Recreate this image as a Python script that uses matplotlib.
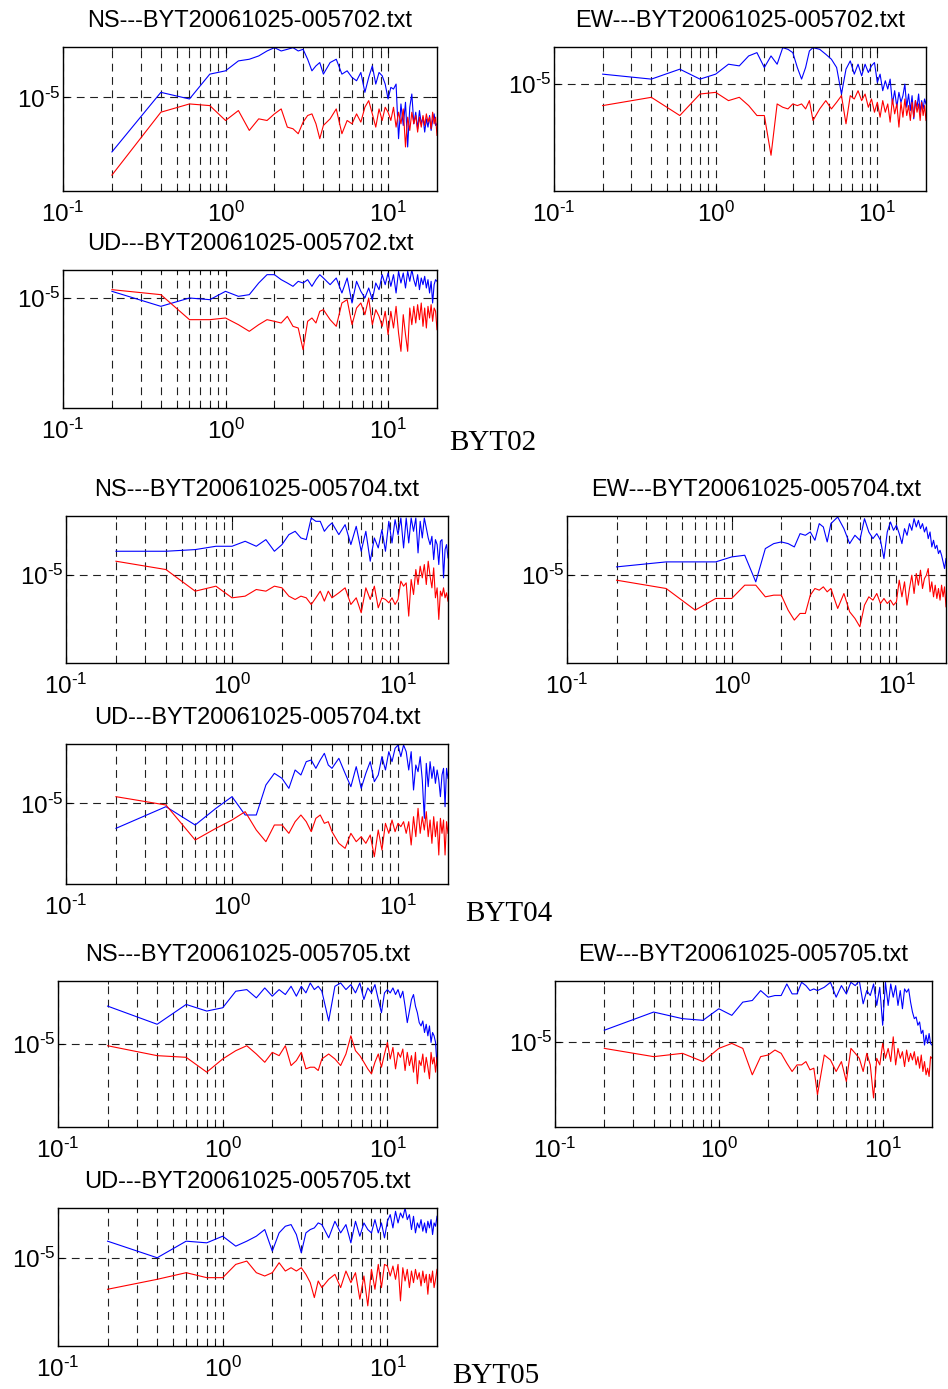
import numpy as np
import matplotlib.pyplot as plt
from matplotlib.ticker import NullFormatter, NullLocator

plt.rcParams['font.family'] = ['Liberation Sans', 'DejaVu Sans']
plt.rcParams['mathtext.fontset'] = 'custom'
plt.rcParams['mathtext.rm'] = 'Liberation Sans'

# frequency grid, Hz
freq = [0.2, 0.4, 0.6, 0.8, 1.0, 1.2, 1.4, 1.6, 1.8, 2.0,
        2.2, 2.4, 2.6, 2.8, 3.0, 3.2, 3.4, 3.6, 3.8, 4.0,
        4.4, 4.8, 5.2, 5.6, 6.0, 6.4, 6.8, 7.2, 7.6, 8.0,
        8.4, 8.8, 9.2, 9.6, 10.0, 10.4, 10.8, 11.2, 11.6, 12.0,
        12.4, 12.8, 13.2, 13.6, 14.0, 14.4, 14.8, 15.2, 15.6, 16.0,
        16.4, 16.8, 17.2, 17.6, 18.0, 18.4, 18.8, 19.2, 19.6, 20.0]

# log10 of spectral amplitude (blue / red curves)
ns02_blue = [-5.33, -4.97, -5.01, -4.86, -4.84, -4.78, -4.77, -4.75, -4.72, -4.70,
             -4.72, -4.71, -4.70, -4.72, -4.71, -4.77, -4.84, -4.81, -4.79, -4.86,
             -4.79, -4.77, -4.86, -4.84, -4.88, -4.90, -4.85, -4.97, -4.88, -4.81,
             -4.92, -4.85, -4.87, -4.92, -5.01, -4.94, -4.95, -4.92, -5.25, -5.04,
             -5.17, -5.03, -5.30, -5.06, -4.98, -5.16, -5.09, -5.19, -5.08, -5.16,
             -5.12, -5.21, -5.13, -5.18, -5.11, -5.20, -5.14, -5.10, -5.17, -5.16]
ns02_red = [-5.47, -5.09, -5.04, -5.05, -5.14, -5.08, -5.20, -5.13, -5.14, -5.10,
            -5.07, -5.18, -5.19, -5.22, -5.15, -5.11, -5.10, -5.16, -5.25, -5.17,
            -5.13, -5.07, -5.22, -5.14, -5.16, -5.10, -5.15, -5.06, -5.02, -5.10,
            -5.18, -5.07, -5.14, -5.06, -5.09, -5.14, -5.06, -5.18, -5.09, -5.16,
            -5.07, -5.30, -5.12, -5.20, -5.09, -5.16, -5.11, -5.21, -5.12, -5.18,
            -5.11, -5.17, -5.10, -5.15, -5.12, -5.19, -5.09, -5.16, -5.12, -5.23]
ew02_blue = [-4.94, -4.97, -4.91, -4.97, -4.94, -4.88, -4.89, -4.83, -4.81, -4.90,
             -4.83, -4.88, -4.78, -4.79, -4.81, -4.90, -4.97, -4.90, -4.80, -4.78,
             -4.79, -4.82, -4.85, -4.90, -5.06, -4.91, -4.86, -4.94, -4.88, -4.95,
             -4.88, -4.93, -4.89, -4.87, -4.99, -4.94, -5.04, -4.98, -5.03, -4.97,
             -5.12, -5.04, -5.14, -5.05, -5.11, -5.07, -5.00, -5.14, -5.06, -5.16,
             -5.07, -5.21, -5.10, -5.14, -5.06, -5.17, -5.10, -5.15, -5.09, -5.12]
ew02_red = [-5.13, -5.08, -5.19, -5.06, -5.05, -5.10, -5.08, -5.13, -5.19, -5.19,
            -5.43, -5.12, -5.14, -5.15, -5.12, -5.13, -5.12, -5.15, -5.10, -5.22,
            -5.15, -5.10, -5.15, -5.11, -5.07, -5.24, -5.07, -5.09, -5.04, -5.10,
            -5.06, -5.14, -5.09, -5.17, -5.11, -5.20, -5.10, -5.17, -5.12, -5.23,
            -5.09, -5.18, -5.12, -5.26, -5.11, -5.20, -5.09, -5.19, -5.13, -5.22,
            -5.11, -5.20, -5.10, -5.17, -5.12, -5.22, -5.11, -5.19, -5.13, -5.22]
ud02_blue = [-4.96, -5.05, -5.00, -5.01, -4.96, -4.99, -4.98, -4.91, -4.86, -4.86,
             -4.89, -4.91, -4.93, -4.90, -4.91, -4.89, -4.93, -4.89, -4.86, -4.88,
             -4.92, -4.88, -4.97, -4.88, -5.03, -4.90, -4.96, -5.00, -4.94, -5.01,
             -4.91, -4.95, -4.86, -4.92, -4.85, -4.93, -4.86, -4.97, -4.84, -4.91,
             -4.85, -4.94, -4.84, -4.90, -4.83, -4.89, -4.93, -4.86, -4.95, -4.88,
             -4.92, -4.87, -4.94, -4.89, -4.97, -4.90, -5.03, -4.92, -4.89, -4.90]
ud02_red = [-4.95, -4.98, -5.13, -5.13, -5.12, -5.16, -5.20, -5.16, -5.13, -5.14,
            -5.15, -5.11, -5.17, -5.18, -5.31, -5.14, -5.12, -5.15, -5.08, -5.07,
            -5.13, -5.17, -5.03, -5.01, -5.16, -5.06, -5.03, -5.10, -5.00, -5.16,
            -5.07, -5.11, -5.17, -5.08, -5.22, -5.08, -5.18, -5.05, -5.21, -5.32,
            -5.10, -5.22, -5.32, -5.06, -5.16, -5.05, -5.15, -5.04, -5.13, -5.03,
            -5.17, -5.06, -5.18, -5.05, -5.12, -5.04, -5.14, -5.06, -5.08, -5.19]

ns04_blue = [-4.86, -4.86, -4.85, -4.83, -4.83, -4.80, -4.83, -4.79, -4.86, -4.82,
             -4.76, -4.74, -4.78, -4.79, -4.66, -4.68, -4.68, -4.74, -4.71, -4.69,
             -4.76, -4.70, -4.82, -4.71, -4.86, -4.74, -4.92, -4.78, -4.84, -4.73,
             -4.86, -4.68, -4.81, -4.67, -4.76, -4.66, -4.84, -4.66, -4.81, -4.66,
             -4.74, -4.66, -4.87, -4.68, -4.78, -4.66, -4.72, -4.78, -4.82, -4.77,
             -4.91, -4.79, -4.82, -4.94, -4.80, -4.79, -5.02, -4.85, -4.82, -4.90]
ns04_red = [-4.92, -4.97, -5.10, -5.07, -5.14, -5.13, -5.09, -5.10, -5.07, -5.08,
            -5.13, -5.15, -5.13, -5.14, -5.18, -5.14, -5.10, -5.16, -5.10, -5.14,
            -5.11, -5.08, -5.18, -5.14, -5.23, -5.08, -5.15, -5.07, -5.20, -5.14,
            -5.15, -5.17, -5.14, -5.18, -5.15, -5.04, -5.07, -5.05, -5.25, -5.03,
            -5.12, -4.97, -5.06, -4.95, -5.02, -4.94, -5.06, -4.92, -5.01, -5.08,
            -4.96, -5.14, -5.08, -5.27, -5.10, -5.13, -5.08, -5.14, -5.11, -5.16]
ew04_blue = [-4.95, -4.92, -4.92, -4.92, -4.89, -4.88, -5.04, -4.84, -4.81, -4.80,
             -4.81, -4.83, -4.75, -4.76, -4.74, -4.79, -4.69, -4.71, -4.80, -4.69,
             -4.65, -4.72, -4.81, -4.76, -4.79, -4.66, -4.74, -4.78, -4.75, -4.79,
             -4.90, -4.74, -4.68, -4.73, -4.70, -4.75, -4.81, -4.72, -4.76, -4.69,
             -4.73, -4.66, -4.71, -4.67, -4.72, -4.69, -4.74, -4.71, -4.78, -4.74,
             -4.83, -4.79, -4.84, -4.82, -4.87, -4.85, -4.88, -4.92, -4.96, -4.90]
ew04_red = [-5.03, -5.08, -5.21, -5.14, -5.14, -5.06, -5.06, -5.13, -5.12, -5.12,
            -5.21, -5.27, -5.23, -5.23, -5.12, -5.08, -5.09, -5.07, -5.10, -5.08,
            -5.20, -5.11, -5.22, -5.26, -5.31, -5.18, -5.13, -5.15, -5.11, -5.17,
            -5.14, -5.17, -5.15, -5.18, -5.16, -5.03, -5.13, -5.04, -5.18, -5.08,
            -5.00, -5.11, -4.99, -5.06, -4.97, -5.08, -5.02, -5.00, -4.96, -5.10,
            -5.04, -5.13, -5.06, -5.14, -5.08, -5.15, -5.06, -5.13, -5.07, -5.19]
ud04_blue = [-5.15, -5.02, -5.13, -5.03, -4.96, -5.07, -5.07, -4.89, -4.82, -4.85,
             -4.91, -4.80, -4.83, -4.75, -4.74, -4.79, -4.74, -4.70, -4.77, -4.79,
             -4.73, -4.82, -4.90, -4.78, -4.91, -4.82, -4.75, -4.87, -4.83, -4.72,
             -4.80, -4.69, -4.75, -4.67, -4.65, -4.72, -4.65, -4.69, -4.80, -4.69,
             -4.92, -4.77, -4.81, -4.72, -4.86, -5.09, -4.76, -4.90, -4.75, -4.85,
             -4.78, -4.88, -4.80, -4.86, -4.96, -4.83, -4.79, -5.02, -4.79, -4.85]
ud04_red = [-4.96, -5.01, -5.22, -5.15, -5.10, -5.05, -5.16, -5.23, -5.13, -5.13,
            -5.18, -5.11, -5.07, -5.11, -5.17, -5.09, -5.07, -5.12, -5.11, -5.17,
            -5.24, -5.27, -5.18, -5.23, -5.20, -5.24, -5.19, -5.32, -5.16, -5.28,
            -5.12, -5.18, -5.10, -5.17, -5.12, -5.14, -5.11, -5.18, -5.11, -5.25,
            -5.08, -5.20, -5.03, -5.18, -5.08, -5.16, -5.05, -5.20, -5.10, -5.24,
            -5.08, -5.20, -5.11, -5.31, -5.09, -5.18, -5.10, -5.31, -5.11, -5.18]

ns05_blue = [-4.77, -4.88, -4.76, -4.80, -4.78, -4.68, -4.67, -4.72, -4.66, -4.71,
             -4.67, -4.70, -4.65, -4.71, -4.65, -4.69, -4.63, -4.67, -4.65, -4.68,
             -4.86, -4.65, -4.63, -4.67, -4.64, -4.69, -4.63, -4.73, -4.66, -4.69,
             -4.64, -4.73, -4.81, -4.69, -4.67, -4.69, -4.66, -4.70, -4.67, -4.72,
             -4.68, -4.77, -4.87, -4.80, -4.73, -4.70, -4.77, -4.81, -4.87, -4.89,
             -4.86, -4.93, -4.88, -4.95, -4.89, -4.99, -4.93, -4.95, -4.99, -5.13]
ns05_red = [-5.01, -5.07, -5.08, -5.17, -5.09, -5.04, -5.01, -5.06, -5.11, -5.05,
            -5.07, -5.01, -5.13, -5.10, -5.05, -5.15, -5.14, -5.14, -5.16, -5.09,
            -5.06, -5.09, -5.13, -5.06, -4.95, -5.04, -5.07, -5.11, -5.15, -5.18,
            -5.11, -5.06, -5.14, -5.06, -4.99, -5.09, -5.02, -5.15, -5.05, -5.08,
            -5.03, -5.16, -5.05, -5.13, -5.07, -5.17, -5.05, -5.24, -5.10, -5.13,
            -5.06, -5.17, -5.08, -5.14, -5.21, -5.05, -5.12, -5.08, -5.17, -5.08]
ew05_blue = [-4.93, -4.82, -4.86, -4.87, -4.80, -4.84, -4.76, -4.75, -4.69, -4.73,
             -4.72, -4.72, -4.65, -4.71, -4.71, -4.64, -4.66, -4.69, -4.68, -4.69,
             -4.67, -4.64, -4.73, -4.66, -4.71, -4.64, -4.66, -4.63, -4.77, -4.69,
             -4.72, -4.65, -4.78, -4.67, -4.90, -4.64, -4.78, -4.65, -4.73, -4.66,
             -4.78, -4.69, -4.80, -4.68, -4.70, -4.68, -4.76, -4.82, -4.86, -4.85,
             -4.90, -4.88, -4.95, -4.93, -5.02, -4.96, -5.01, -4.95, -5.01, -5.02]
ew05_red = [-5.04, -5.09, -5.07, -5.12, -5.04, -5.01, -5.04, -5.20, -5.09, -5.08,
            -5.05, -5.07, -5.13, -5.18, -5.14, -5.14, -5.12, -5.17, -5.16, -5.32,
            -5.08, -5.11, -5.18, -5.12, -5.24, -5.04, -5.07, -5.10, -5.18, -5.07,
            -5.14, -5.34, -5.10, -5.14, -5.01, -5.10, -5.04, -5.12, -4.97, -5.14,
            -5.04, -5.10, -5.06, -5.15, -5.05, -5.12, -5.07, -5.11, -5.06, -5.14,
            -5.09, -5.16, -5.08, -5.18, -5.12, -5.20, -5.16, -5.21, -5.09, -5.10]
ud05_blue = [-4.90, -5.00, -4.90, -4.91, -4.87, -4.93, -4.90, -4.87, -4.83, -4.96,
             -4.85, -4.81, -4.80, -4.86, -4.97, -4.85, -4.83, -4.82, -4.79, -4.80,
             -4.88, -4.78, -4.85, -4.80, -4.91, -4.78, -4.87, -4.79, -4.83, -4.85,
             -4.77, -4.85, -4.79, -4.88, -4.78, -4.74, -4.82, -4.72, -4.79, -4.73,
             -4.76, -4.70, -4.77, -4.74, -4.83, -4.75, -4.85, -4.79, -4.82, -4.77,
             -4.84, -4.79, -4.85, -4.78, -4.82, -4.77, -4.86, -4.79, -4.81, -4.75]
ud05_red = [-5.19, -5.13, -5.09, -5.12, -5.12, -5.04, -5.02, -5.09, -5.11, -5.09,
            -5.03, -5.08, -5.06, -5.08, -5.06, -5.10, -5.15, -5.24, -5.14, -5.18,
            -5.13, -5.10, -5.18, -5.08, -5.15, -5.09, -5.25, -5.11, -5.29, -5.07,
            -5.19, -5.04, -5.18, -5.04, -5.05, -5.11, -5.05, -5.13, -5.04, -5.26,
            -5.06, -5.14, -5.07, -5.18, -5.08, -5.15, -5.07, -5.13, -5.09, -5.17,
            -5.08, -5.15, -5.10, -5.22, -5.10, -5.15, -5.08, -5.18, -5.13, -5.07]

titles = ['NS---BYT20061025-005702.txt', 'EW---BYT20061025-005702.txt',
          'UD---BYT20061025-005702.txt',
          'NS---BYT20061025-005704.txt', 'EW---BYT20061025-005704.txt',
          'UD---BYT20061025-005704.txt',
          'NS---BYT20061025-005705.txt', 'EW---BYT20061025-005705.txt',
          'UD---BYT20061025-005705.txt']
stations = ['BYT02', 'BYT04', 'BYT05']

W, H = 948, 1389
fig = plt.figure(figsize=(W / 100, H / 100), dpi=100)

# axes boxes in pixels (left, top, right, bottom) and y range in log10 units
panels = [
    ((63, 47, 437, 191), (-5.566, -4.696), ns02_blue, ns02_red),
    ((554, 47, 926, 191), (-5.646, -4.776), ew02_blue, ew02_red),
    ((63, 270, 437, 408), (-5.660, -4.832), ud02_blue, ud02_red),
    ((66, 516, 448, 663), (-5.532, -4.648), ns04_blue, ns04_red),
    ((567, 516, 946, 663), (-5.528, -4.644), ew04_blue, ew04_red),
    ((66, 744, 448, 884), (-5.484, -4.644), ud04_blue, ud04_red),
    ((58, 981, 437, 1127), (-5.502, -4.618), ns05_blue, ns05_red),
    ((555, 981, 932, 1127), (-5.516, -4.632), ew05_blue, ew05_red),
    ((58, 1208, 437, 1346), (-5.532, -4.700), ud05_blue, ud05_red),
]

minor_x = [0.2, 0.3, 0.4, 0.5, 0.6, 0.7, 0.8, 0.9, 2, 3, 4, 5, 6, 7, 8, 9]
dash = (0, (7, 5))
xlabels = [r'$\mathregular{10^{\text{-}1}}$', r'$\mathregular{10^{0}}$',
           r'$\mathregular{10^{1}}$']
ylabel = r'$\mathregular{10^{\text{-}5}}$'

for (box, ylim, blue, red), title in zip(panels, titles):
    x0, y0, x1, y1 = box
    ax = fig.add_axes([x0 / W, 1 - y1 / H, (x1 - x0) / W, (y1 - y0) / H])
    ax.set_xscale('log')
    ax.set_yscale('log')
    ax.plot(freq, 10 ** np.array(blue), color='#0000ff', lw=0.8)
    ax.plot(freq, 10 ** np.array(red), color='#ff0000', lw=0.8)
    ax.set_xlim(0.1, 20)
    ax.set_ylim(10 ** ylim[0], 10 ** ylim[1])
    ax.set_xticks([0.1, 1, 10], xlabels)
    ax.set_xticks(minor_x, minor=True)
    ax.xaxis.set_minor_formatter(NullFormatter())
    ax.set_yticks([1e-5], [ylabel])
    ax.yaxis.set_minor_locator(NullLocator())
    ax.grid(True, which='both', axis='x', color='#202020', ls=dash, lw=0.8)
    ax.grid(True, which='major', axis='y', color='#202020', ls=dash, lw=0.8)
    ax.tick_params(which='both', direction='in', top=True, right=True, labelsize=17.5)
    ax.tick_params(which='major', length=4)
    ax.tick_params(which='minor', length=2)
    ax.tick_params(axis='x', pad=8)
    ax.tick_params(axis='y', pad=2)
    for s in ax.spines.values():
        s.set_linewidth(1.0)
    ax.text(0.5, 1 + 20 / (y1 - y0), title, transform=ax.transAxes,
            ha='center', va='baseline', fontsize=17)

for name, (x, y) in zip(stations, [(449, 450), (465, 921), (452, 1383)]):
    fig.text(x / W, 1 - y / H, name, family='Liberation Serif', fontsize=21,
             ha='left', va='baseline')

fig.savefig('out.png', dpi=100)
